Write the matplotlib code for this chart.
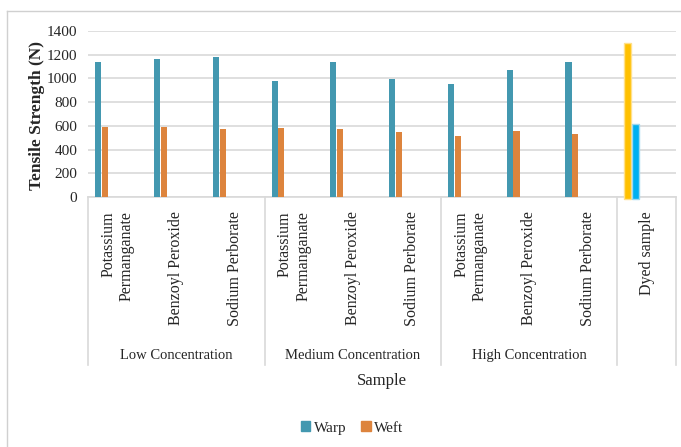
import numpy as np
import matplotlib
matplotlib.use('Agg')
import matplotlib.pyplot as plt
from matplotlib.lines import Line2D
from matplotlib.patches import Patch

# tensile strength of treated fabric samples (N)
samples = ['Potassium\nPermanganate', 'Benzoyl Peroxide', 'Sodium Perborate',
           'Potassium\nPermanganate', 'Benzoyl Peroxide', 'Sodium Perborate',
           'Potassium\nPermanganate', 'Benzoyl Peroxide', 'Sodium Perborate',
           'Dyed sample']
groups = ['Low Concentration', 'Medium Concentration', 'High Concentration']
group_size = [3, 3, 3]
warp = [1140, 1165, 1185, 980, 1140, 998, 953, 1072, 1140, 1300]
weft = [588, 588, 570, 580, 570, 551, 514, 559, 531, 614]
yticks = [0, 200, 400, 600, 800, 1000, 1200, 1400]

plt.rcParams['font.family'] = ['Liberation Serif', 'DejaVu Serif']
txt = '#262626'

warp_c = '#4398B0'
weft_c = '#DD843D'
dyed_warp_c = '#FFC000'
dyed_weft_c = '#00B0F0'

fig = plt.figure(figsize=(6.81, 4.47), dpi=100)
ax = fig.add_axes([0.1297, 0.5593, 0.8630, 0.3713])

n = len(samples)
x = np.arange(n)
w = 0.105
ax.bar(x[:-1] + 0.17, warp[:-1], w, color=warp_c, edgecolor='none', zorder=3)
ax.bar(x[:-1] + 0.285, weft[:-1], w, color=weft_c, edgecolor='none', zorder=3)
# dyed sample drawn in its own colours, slightly below the baseline
ax.bar(x[-1:] + 0.17, warp[-1] + 15, w + 0.02, bottom=-15, color=dyed_warp_c,
       edgecolor='#FFE08A', linewidth=1, zorder=3, clip_on=False)
ax.bar(x[-1:] + 0.31, weft[-1] + 15, w + 0.02, bottom=-15, color=dyed_weft_c,
       edgecolor='#9ED8F0', linewidth=1, zorder=3, clip_on=False)

ax.set_xlim(0, n)
ax.set_ylim(0, 1400)
ax.set_yticks(yticks)
ax.tick_params(axis='y', length=0, labelsize=11, labelcolor=txt, pad=8)
ax.grid(axis='y', color='#D9D9D9', linewidth=1.2, zorder=0)
for s in ['top', 'right', 'left']:
    ax.spines[s].set_visible(False)
ax.spines['bottom'].set_color('#D9D9D9')
ax.spines['bottom'].set_linewidth(1.2)

ax.set_xticks(x + 0.5)
ax.set_xticklabels(samples, rotation=90, fontsize=11.5, color=txt,
                   multialignment='right', linespacing=1.2)
ax.tick_params(axis='x', length=0, pad=10)

# two-level category axis: separators and group names
tr = ax.get_xaxis_transform()
bounds = np.concatenate([[0], np.cumsum(group_size), [n]])
for b in bounds:
    ax.add_line(Line2D([b, b], [0, -1.012], transform=tr, color='#D9D9D9',
                       linewidth=1.2, clip_on=False))
for i, g in enumerate(groups):
    mid = (bounds[i] + bounds[i + 1]) / 2
    ax.text(mid, -0.958, g, transform=tr, ha='center', va='center',
            fontsize=10.5, color=txt)

fig.text(36.7 / 681, 1 - 116 / 447, 'Tensile Strength (N)', rotation=90,
         ha='center', va='center', fontsize=12.5, fontweight='bold', color=txt)
fig.text(382 / 681, 1 - 381 / 447, 'Sample', ha='center', va='center',
         fontsize=12, color=txt)

handles = [Patch(color=warp_c, label='Warp'), Patch(color=weft_c, label='Weft')]
fig.legend(handles=handles, loc='center', bbox_to_anchor=(352 / 681, 1 - 428 / 447),
           ncol=2, frameon=False, fontsize=11, handlelength=0.6, handleheight=0.6,
           handletextpad=0.2, columnspacing=1.0, labelcolor=txt)

# outer chart border
fig.add_artist(Line2D([7 / 681, 7 / 681], [0, 1 - 11 / 447], transform=fig.transFigure,
                      color='#D0D0D0', linewidth=1))
fig.add_artist(Line2D([7 / 681, 1], [1 - 11 / 447, 1 - 11 / 447], transform=fig.transFigure,
                      color='#D0D0D0', linewidth=1))

fig.savefig('out.png', dpi=100)
